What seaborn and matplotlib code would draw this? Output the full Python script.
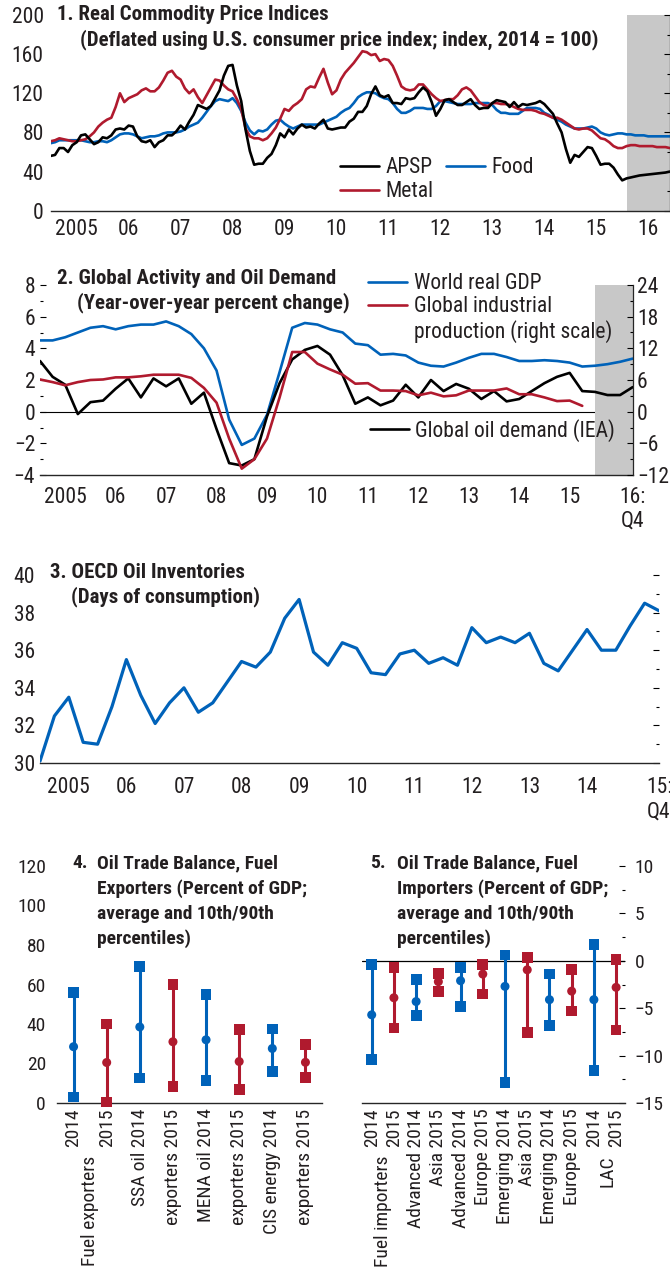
import numpy as np
import pandas as pd
import matplotlib.pyplot as plt
import seaborn as sns
from matplotlib import font_manager
from matplotlib.lines import Line2D
from matplotlib.ticker import MultipleLocator

BLUE = '#0062B9'
RED = '#B01A2E'
GREY = '#C8C8C8'
INK = '#231F20'

# ---- panel 1: monthly, Jan 2005 - Dec 2016 (index, 2014 = 100)
apsp = [56, 57, 64, 64, 60, 67, 70, 77, 78, 73, 68, 70,
        75, 74, 77, 83, 84, 83, 87, 86, 76, 71, 70, 72,
        65, 70, 72, 77, 77, 81, 87, 83, 91, 98, 108, 106,
        104, 107, 115, 123, 138, 148, 149, 128, 112, 83, 61, 47,
        48, 48, 54, 58, 67, 79, 75, 83, 78, 84, 88, 85,
        86, 84, 89, 93, 84, 83, 84, 85, 85, 91, 94, 101,
        101, 107, 119, 127, 118, 116, 118, 110, 110, 109, 115, 114,
        115, 121, 126, 122, 111, 97, 104, 113, 114, 111, 108, 108,
        111, 114, 108, 104, 105, 105, 110, 113, 112, 111, 106, 111,
        106, 109, 108, 109, 110, 112, 109, 104, 99, 89, 80, 63,
        49, 57, 55, 60, 65, 64, 56, 47, 48, 48, 44, 37,
        31, 33, 34, 35, 36, 36.5, 37, 37.5, 38, 38.5, 39, 40]
food = [69, 70, 72, 72, 72, 72, 72, 72, 71, 70, 70, 71,
        71, 70, 72, 75, 78, 79, 79, 78, 76, 74, 75, 76,
        76, 77, 79, 80, 80, 80, 81, 83, 86, 88, 90, 95,
        101, 107, 112, 114, 113, 112, 115, 110, 102, 90, 82, 78,
        82, 81, 83, 88, 92, 93, 89, 86, 84, 86, 88, 88,
        88, 88, 88, 90, 92, 94, 96, 100, 103, 105, 110, 116,
        119, 121, 121, 120, 117, 115, 114, 110, 104, 100, 100, 102,
        105, 105, 105, 104, 104, 107, 112, 112, 111, 110, 109, 109,
        109, 109, 110, 110, 110, 110, 108, 103, 100, 100, 99, 99,
        99, 102, 105, 105, 105, 104, 100, 98, 95, 93, 91, 88,
        86, 84, 84, 84, 85, 86, 84, 80, 78, 77, 78, 79,
        79, 78, 78, 77, 77, 77, 76, 76, 76, 76, 76, 76]
metal = [71, 72, 74, 73, 72, 71, 71, 72, 73, 76, 80, 86,
         90, 93, 95, 106, 120, 111, 115, 117, 119, 123, 125, 122,
         122, 126, 133, 141, 143, 137, 134, 125, 120, 124, 116, 110,
         118, 126, 134, 133, 128, 124, 122, 114, 104, 84, 76, 74,
         74, 72, 74, 79, 85, 94, 104, 102, 107, 110, 114, 124,
         127, 126, 136, 145, 131, 119, 123, 134, 141, 146, 151, 157,
         163, 162, 159, 160, 153, 155, 154, 148, 138, 127, 124, 123,
         124, 129, 129, 124, 119, 115, 112, 113, 114, 114, 118, 124,
         126, 123, 117, 111, 108, 107, 110, 110, 109, 109, 108, 106,
         104, 103, 103, 103, 102, 100, 99, 97, 95, 95, 93, 90,
         87, 84, 83, 84, 84, 82, 78, 74, 73, 70, 66, 64,
         64, 66, 67, 67, 66, 66, 66, 66, 65, 65, 65, 64]
year_labels_1 = ['2005', '06', '07', '08', '09', '10', '11', '12', '13', '14', '15', '16']

# ---- panel 2: quarterly, 2005:Q1 - 2016:Q4 (percent change)
world_gdp = [4.5, 4.5, 4.7, 5.0, 5.3, 5.4, 5.2, 5.4, 5.5, 5.5, 5.7, 5.4,
             4.9, 4.0, 2.6, -0.5, -2.1, -1.7, -0.2, 2.5, 5.3, 5.6, 5.5, 5.2,
             5.0, 4.3, 4.2, 3.6, 3.65, 3.55, 3.1, 2.9, 2.85, 3.1, 3.4, 3.65,
             3.65, 3.45, 3.2, 3.2, 3.25, 3.2, 3.1, 2.85, 2.9, 3.0, 3.15, 3.35]
global_ip = [6.1, 5.6, 5.0, 5.6, 6.0, 6.1, 6.5, 6.5, 6.7, 7.0, 7.0, 7.0,
             6.4, 4.5, 1.7, -5.1, -10.8, -9.0, -5.1, 2.7, 11.3, 11.3, 9.1, 8.0,
             7.0, 5.3, 5.4, 4.0, 4.0, 3.9, 3.1, 3.6, 2.9, 3.1, 4.0, 4.0,
             4.0, 4.4, 3.3, 3.3, 2.7, 2.0, 2.1, 1.1]
oil_demand = [3.2, 2.2, 1.7, -0.15, 0.6, 0.7, 1.45, 2.1, 0.9, 2.1, 1.6, 2.1,
              0.5, 1.2, -1.1, -3.25, -3.4, -3.0, -0.3, 1.8, 3.3, 3.9, 4.15, 3.6,
              2.3, 0.5, 0.9, 0.4, 0.7, 1.7, 0.9, 2.0, 1.3, 1.75, 1.45, 0.8,
              1.3, 0.65, 0.8, 1.3, 1.8, 2.2, 2.45, 1.3, 1.25, 1.05, 1.05, 1.55]
year_labels_2 = ['2005', '06', '07', '08', '09', '10', '11', '12', '13', '14', '15', '16:\nQ4']

# ---- panel 3: quarterly, 2005:Q1 - 2015:Q4 (days of consumption)
oecd_inventories = [30.1, 32.5, 33.5, 31.1, 31.0, 33.0, 35.5, 33.6, 32.1, 33.2, 34.0, 32.7,
                    33.2, 34.3, 35.4, 35.1, 35.9, 37.7, 38.7, 35.9, 35.2, 36.4, 36.1, 34.8,
                    34.7, 35.8, 36.0, 35.3, 35.6, 35.2, 37.2, 36.4, 36.7, 36.4, 36.9, 35.3,
                    34.9, 36.0, 37.1, 36.0, 36.0, 37.3, 38.5, 38.1]
year_labels_3 = ['2005', '06', '07', '08', '09', '10', '11', '12', '13', '14', '15:\nQ4']

# ---- panel 4: fuel exporters (percent of GDP)
exp_year = ['2014', '2015'] * 4
exp_ticklabels = ['2014', '2015', 'SSA oil 2014', 'exporters 2015',
                  'MENA oil 2014', 'exporters 2015', 'CIS energy 2014', 'exporters 2015']
exp_mean = [28.5, 20.5, 38.5, 31, 32, 21, 27.6, 20.6]
exp_p10 = [3, 0.5, 12.7, 8.5, 11.5, 6.8, 16.1, 12.9]
exp_p90 = [56, 40, 69, 60, 55, 37.3, 37.5, 29.7]

# ---- panel 5: fuel importers (percent of GDP)
imp_year = ['2014', '2015'] * 6
imp_ticklabels = ['2014', '2015', 'Advanced 2014', 'Asia 2015', 'Advanced 2014', 'Europe 2015',
                  'Emerging 2014', 'Asia 2015', 'Emerging 2014', 'Europe 2015', '2014', '2015']
imp_mean = [-5.7, -3.9, -4.3, -2.2, -2.1, -1.4, -2.7, -0.95, -4.1, -3.2, -4.1, -2.8]
imp_p10 = [-10.4, -7.1, -5.8, -3.2, -4.8, -3.5, -12.8, -7.6, -6.8, -5.3, -11.6, -7.3]
imp_p90 = [-0.4, -0.7, -2.0, -1.3, -0.7, -0.4, 0.6, 0.35, -1.4, -0.95, 1.75, 0.1]

sns.set_style('white')

# pick a condensed face if one is installed, else plain Liberation Sans
entries = font_manager.fontManager.ttflist
names = {f.name for f in entries}
family, stretch = None, 'normal'
for cand in ['Liberation Sans Narrow', 'Arial Narrow', 'Roboto Condensed', 'Noto Sans Condensed',
             'Open Sans Condensed', 'DejaVu Sans Condensed']:
    if cand in names:
        family = cand
        break
if family is None:
    for fam in ['Noto Sans', 'Open Sans', 'Roboto', 'DejaVu Sans']:
        if any(f.name == fam and 'condensed' in str(f.stretch) for f in entries):
            family, stretch = fam, 'condensed'
            break
if family is None:
    family = 'Liberation Sans'
    TICK, LEG, TTL, TICK45, TTL45 = 14, 14, 12.8, 12.5, 12.5
else:
    TICK, LEG, TTL, TICK45, TTL45 = 15.5, 15.5, 15, 14, 14
plt.rcParams['font.family'] = [family, 'DejaVu Sans']
plt.rcParams['font.stretch'] = stretch
plt.rcParams['text.color'] = INK
plt.rcParams['xtick.color'] = 'black'
plt.rcParams['ytick.color'] = 'black'
plt.rcParams['xtick.labelcolor'] = INK
plt.rcParams['ytick.labelcolor'] = INK

W, H = 670, 1272
fig = plt.figure(figsize=(W / 100, H / 100), dpi=100)


def add_axes(left, top, right, bottom):
    return fig.add_axes([left / W, 1 - bottom / H, (right - left) / W, (bottom - top) / H])


def time_axis(ax, start, end, labels, label_pos, pad_x, pad_y):
    for s in ['top', 'left', 'right']:
        ax.spines[s].set_visible(False)
    ax.spines['bottom'].set_linewidth(1.0)
    ax.set_xticks(np.arange(start, end + 0.01, 1.0))
    ax.set_xticklabels([])
    ax.set_xticks(label_pos, labels, minor=True)
    ax.tick_params(axis='x', which='major', direction='in', length=6, width=0.9)
    ax.tick_params(axis='x', which='minor', length=0, pad=pad_x, labelsize=TICK)
    ax.tick_params(axis='y', which='both', direction='in', width=0.8, labelsize=TICK, pad=pad_y)
    ax.tick_params(axis='y', which='major', length=4)
    ax.tick_params(axis='y', which='minor', length=2)
    ax.set_xlabel('')
    ax.set_ylabel('')
    ax.patch.set_alpha(0)


def title(x, y, text, fs):
    fig.text(x / W, 1 - y / H, text, fontsize=fs, fontweight='bold', va='center', ha='left')


# ================= panel 1
ax1 = add_axes(50.7, 15, 670, 210.7)
months = 2005 + np.arange(len(apsp)) / 12
df1 = pd.DataFrame({'date': months, 'APSP': apsp, 'Food': food, 'Metal': metal})
ax1.axvspan(2016 + 1 / 12, 2017, color=GREY, lw=0, zorder=0)
sns.lineplot(data=df1, x='date', y='Food', color=BLUE, lw=1.9, ax=ax1)
sns.lineplot(data=df1, x='date', y='Metal', color=RED, lw=1.9, ax=ax1)
sns.lineplot(data=df1, x='date', y='APSP', color='black', lw=1.9, ax=ax1)
ax1.set_xlim(2005, 2016.92)
ax1.set_ylim(0, 200)
ax1.yaxis.set_major_locator(MultipleLocator(40))
ax1.yaxis.set_minor_locator(MultipleLocator(20))
time_axis(ax1, 2005, 2016, year_labels_1, np.arange(2005.5, 2017, 1.0), 6, 5)
ax1.tick_params(axis='y', which='both', right=True, labelright=False)
ax1.spines['right'].set_visible(True)
ax1.spines['right'].set_linewidth(0.9)
h = [Line2D([], [], color='black', lw=1.9), Line2D([], [], color=RED, lw=1.9),
     Line2D([], [], color=BLUE, lw=1.9)]
ax1.legend(h, ['APSP', 'Metal', 'Food'], ncol=2, loc='upper left', bbox_to_anchor=(0.467, 0.274),
           frameon=False, fontsize=LEG, handlelength=1.8, handletextpad=0.3, labelspacing=0.15,
           columnspacing=0.6, borderpad=0, borderaxespad=0)
title(57, 15, '1. Real Commodity Price Indices', TTL)
title(80, 40, '(Deflated using U.S. consumer price index; index, 2014 = 100)', TTL)

# ================= panel 2
ax2 = add_axes(40, 285, 632.7, 475)
quarters = 2005 + np.arange(len(world_gdp)) * 0.25
ax2.axhline(0, color='black', lw=0.8, zorder=0.5)
ax2.axvspan(2016, 2016.75, color=GREY, lw=0, zorder=1)
sns.lineplot(x=quarters, y=world_gdp, color=BLUE, lw=1.9, ax=ax2, zorder=3)
sns.lineplot(x=quarters, y=oil_demand, color='black', lw=1.9, ax=ax2, zorder=4)
ax2.set_xlim(2005, 2016.75)
ax2.set_ylim(-4, 8)
ax2.yaxis.set_major_locator(MultipleLocator(2))
ax2.yaxis.set_minor_locator(MultipleLocator(1))
time_axis(ax2, 2005, 2016, year_labels_2, list(np.arange(2005.5, 2016, 1.0)) + [2016.75], 8.5, 3.5)
ax2r = ax2.twinx()
sns.lineplot(x=quarters[:len(global_ip)], y=global_ip, color=RED, lw=1.9, ax=ax2r, zorder=3)
ax2r.set_ylim(-12, 24)
ax2r.yaxis.set_major_locator(MultipleLocator(6))
ax2r.yaxis.set_minor_locator(MultipleLocator(3))
for s in ['top', 'left', 'bottom']:
    ax2r.spines[s].set_visible(False)
ax2r.spines['right'].set_linewidth(0.9)
ax2r.tick_params(axis='y', which='both', direction='in', width=0.8, labelsize=TICK, pad=3)
ax2r.tick_params(axis='y', which='major', length=4)
ax2r.tick_params(axis='y', which='minor', length=2)
ax2r.set_ylabel('')
blank = Line2D([], [], color='none')
leg = ax2r.legend([Line2D([], [], color=BLUE, lw=1.9), Line2D([], [], color=RED, lw=1.9), blank],
                  ['World real GDP', 'Global industrial', 'production (right scale)'],
                  loc='upper left', bbox_to_anchor=(0.554, 1.062), frameon=False, fontsize=LEG,
                  handlelength=1.8, handletextpad=0.3, labelspacing=0.1, borderpad=0, borderaxespad=0)
ax2r.add_artist(leg)
ax2r.legend([Line2D([], [], color='black', lw=1.9)], ['Global oil demand (IEA)'],
            loc='upper left', bbox_to_anchor=(0.557, 0.295), frameon=False, fontsize=LEG,
            handlelength=1.8, handletextpad=0.3, borderpad=0, borderaxespad=0)
title(57, 278, '2. Global Activity and Oil Demand', TTL)
title(77, 303, '(Year-over-year percent change)', TTL)

# ================= panel 3
ax3 = add_axes(40, 575, 659, 763)
q3 = 2005 + np.arange(len(oecd_inventories)) * 0.25
sns.lineplot(x=q3, y=oecd_inventories, color=BLUE, lw=2.3, ax=ax3)
ax3.set_xlim(2005, 2015.75)
ax3.set_ylim(30, 40)
ax3.yaxis.set_major_locator(MultipleLocator(2))
ax3.yaxis.set_minor_locator(MultipleLocator(1))
time_axis(ax3, 2005, 2015, year_labels_3, list(np.arange(2005.5, 2015, 1.0)) + [2015.75], 10, 3.5)
ax3.tick_params(axis='y', which='both', right=True, labelright=False)
title(50, 572, '3. OECD Oil Inventories', TTL)
title(71, 597, '(Days of consumption)', TTL)


# ================= panels 4 and 5
def range_panel(ax, year, mean, p10, p90, ticklabels, xlim, ylim, major, minor, bounds):
    df = pd.DataFrame({'pos': np.arange(len(mean)), 'year': year, 'mean': mean, 'p10': p10, 'p90': p90})
    pal = {'2014': BLUE, '2015': RED}
    ax.vlines(df['pos'], df['p10'], df['p90'], colors=df['year'].map(pal), lw=2.2, zorder=2)
    for col, mk, sz in [('p10', 's', 60), ('p90', 's', 60), ('mean', 'o', 42)]:
        sns.scatterplot(data=df, x='pos', y=col, hue='year', palette=pal, marker=mk, s=sz,
                        linewidth=0, legend=False, ax=ax, zorder=3, clip_on=False)
    ax.set_xlim(*xlim)
    ax.set_ylim(*ylim)
    ax.yaxis.set_major_locator(MultipleLocator(major))
    ax.yaxis.set_minor_locator(MultipleLocator(minor))
    for s in ['top', 'left', 'right']:
        ax.spines[s].set_visible(False)
    ax.spines['bottom'].set_linewidth(1.0)
    ax.set_xticks(bounds)
    ax.set_xticklabels([])
    ax.set_xticks(df['pos'], ticklabels, minor=True, rotation=90)
    ax.tick_params(axis='x', which='major', direction='in', length=6, width=0.9)
    ax.tick_params(axis='x', which='minor', length=0, pad=4, labelsize=TICK45)
    ax.tick_params(axis='y', which='both', direction='in', width=0.8, labelsize=TICK45)
    ax.tick_params(axis='y', which='major', length=4)
    ax.tick_params(axis='y', which='minor', length=2)
    ax.set_xlabel('')
    ax.set_ylabel('')
    ax.patch.set_alpha(0)


def group_label(ax, x, text):
    ax.annotate(text, xy=(x, 0), xycoords=('data', 'axes fraction'), xytext=(0, -38),
                textcoords='offset points', rotation=90, ha='center', va='top', fontsize=TICK45)


ax4 = add_axes(57, 866, 322, 1103)
range_panel(ax4, exp_year, exp_mean, exp_p10, exp_p90, exp_ticklabels,
            (-0.5, 7.5), (0, 120), 20, 10, [1.5, 3.5, 5.5])
ax4.tick_params(axis='y', which='major', pad=8)
group_label(ax4, 0.5, 'Fuel exporters')
title(72, 863, '4.', TTL45)
for i, line in enumerate(['Oil Trade Balance, Fuel', 'Exporters (Percent of GDP;',
                          'average and 10th/90th', 'percentiles)']):
    title(97, 863 + 25.3 * i, line, TTL45)

ax5 = add_axes(361.7, 866, 625, 1103)
ax5.axhline(0, color='black', lw=0.9, zorder=1)
range_panel(ax5, imp_year, imp_mean, imp_p10, imp_p90, imp_ticklabels,
            (-0.45, 11.4), (-15, 10), 5, 2.5, [1.5, 3.5, 5.5, 7.5, 9.5])
ax5.tick_params(axis='y', which='both', left=False, labelleft=False, right=True, labelright=True)
ax5.tick_params(axis='y', which='major', pad=7)
group_label(ax5, 0.5, 'Fuel importers')
group_label(ax5, 10.6, 'LAC')
title(370, 863, '5.', TTL45)
for i, line in enumerate(['Oil Trade Balance, Fuel', 'Importers (Percent of GDP;',
                          'average and 10th/90th', 'percentiles)']):
    title(397, 863 + 25.3 * i, line, TTL45)

plt.savefig('out.png', dpi=100)
